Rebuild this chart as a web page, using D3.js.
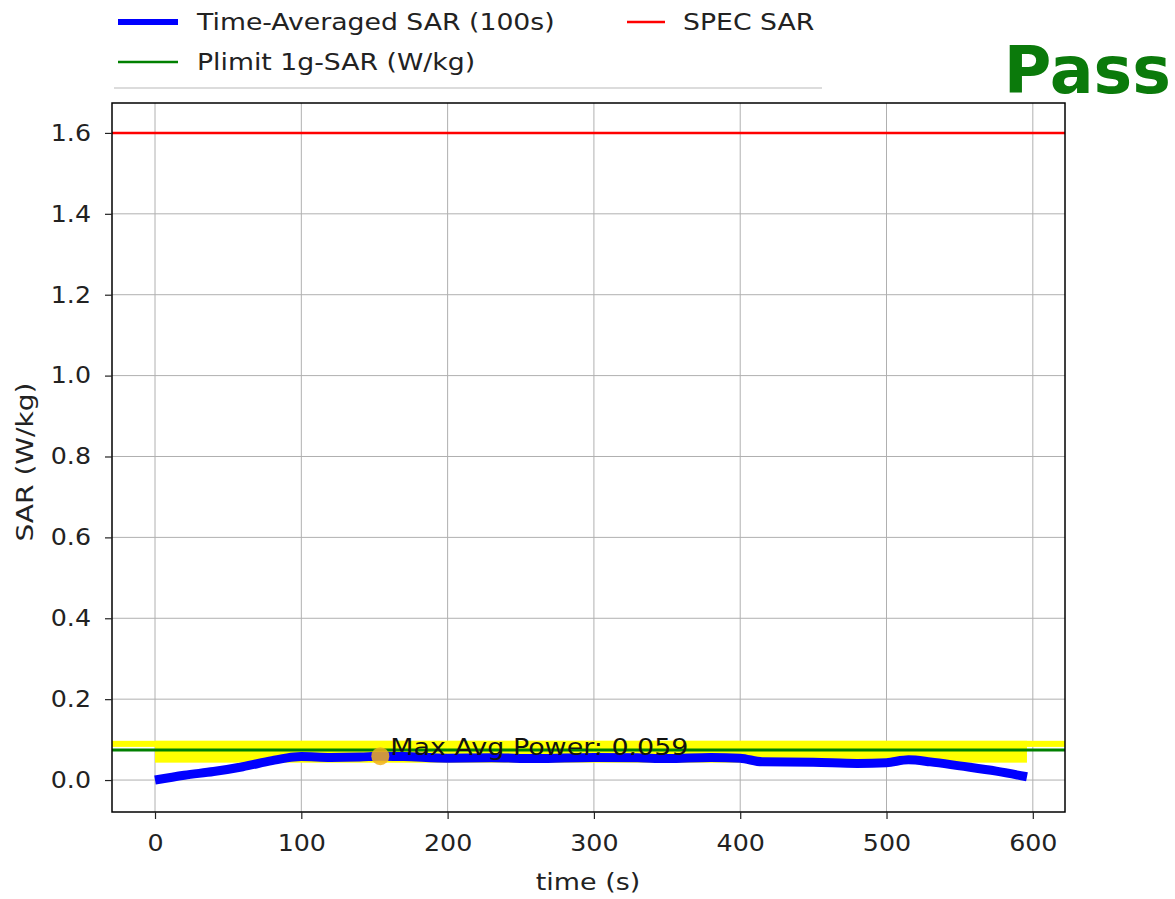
<!DOCTYPE html>
<html><head><meta charset="utf-8">
<script src="https://cdn.jsdelivr.net/npm/d3@7"></script>
<style>body{margin:0;background:#fff}svg{display:block;font-family:"DejaVu Sans",sans-serif}</style>
</head><body><svg id="c" width="1175" height="899"></svg>
<script>
// Data
const timeS = [0,20,40,60,80,95,100,120,140,155,170,200,230,260,300,330,350,380,400,415,450,480,500,515,530,550,575,596];
const sarAvg = [0.0,0.012,0.021,0.033,0.048,0.057,0.058,0.056,0.057,0.059,0.058,0.054,0.055,0.053,0.056,0.055,0.053,0.056,0.054,0.045,0.044,0.041,0.043,0.050,0.045,0.035,0.022,0.008];
const specSar = 1.6;
const plimit = 0.074;
const bandFull = [0.082, 0.097];
const bandData = [0.043, 0.097];
const maxPoint = {t:154, v:0.059};
const xTicks = [0,100,200,300,400,500,600];
const yTicks = [0,0.2,0.4,0.6,0.8,1.0,1.2,1.4,1.6];
const legendItems = ["Time-Averaged SAR (100s)","SPEC SAR","Plimit 1g-SAR (W/kg)"];

const svg = d3.select("#c");
const L=112,R=1065,T=103,B=812;
const x = d3.scaleLinear().domain([-29.4,622]).range([L,R]);
const y = d3.scaleLinear().domain([-0.079,1.674]).range([B,T]);

function stretch(sel, f){
  sel.each(function(){
    const w = this.getComputedTextLength();
    d3.select(this).attr("textLength", w*f).attr("lengthAdjust","spacingAndGlyphs");
  });
}

svg.append("defs").append("clipPath").attr("id","clip").append("rect").attr("x",L).attr("y",T).attr("width",R-L).attr("height",B-T);

// grid
const g = svg.append("g");
g.selectAll(".gx").data(xTicks).join("line").attr("x1",d=>x(d)).attr("x2",d=>x(d)).attr("y1",T).attr("y2",B).attr("stroke","#b0b0b0").attr("stroke-width",1);
g.selectAll(".gy").data(yTicks).join("line").attr("y1",d=>y(d)).attr("y2",d=>y(d)).attr("x1",L).attr("x2",R).attr("stroke","#b0b0b0").attr("stroke-width",1);

const p = svg.append("g").attr("clip-path","url(#clip)");
// yellow bands
p.append("rect").attr("x",L).attr("width",R-L).attr("y",y(bandFull[1])).attr("height",y(bandFull[0])-y(bandFull[1])).attr("fill","#ffff00");
p.append("rect").attr("x",x(timeS[0])).attr("width",x(timeS[timeS.length-1])-x(timeS[0])).attr("y",y(bandData[1])).attr("height",y(bandData[0])-y(bandData[1])).attr("fill","#ffff00");
// spec line
p.append("line").attr("x1",L).attr("x2",R).attr("y1",y(specSar)).attr("y2",y(specSar)).attr("stroke","#ff0000").attr("stroke-width",2.5);
// plimit
p.append("line").attr("x1",L).attr("x2",R).attr("y1",y(plimit)).attr("y2",y(plimit)).attr("stroke","#008000").attr("stroke-width",3);
// blue line
const line = d3.line().x((d,i)=>x(timeS[i])).y(d=>y(d)).curve(d3.curveMonotoneX);
p.append("path").attr("d",line(sarAvg)).attr("fill","none").attr("stroke","#0000ff").attr("stroke-width",9).attr("stroke-linejoin","round");
// max point
p.append("circle").attr("cx",x(maxPoint.t)).attr("cy",y(maxPoint.v)).attr("r",9).attr("fill","#f0b020").attr("opacity",0.85);
stretch(svg.append("text").attr("x",x(maxPoint.t)+10).attr("y",755).attr("font-size",23).attr("fill","#111").text("Max Avg Power: "+maxPoint.v.toFixed(3)), 1.17);

// frame
svg.append("rect").attr("x",L).attr("y",T).attr("width",R-L).attr("height",B-T).attr("fill","none").attr("stroke","#000").attr("stroke-width",1.5);

// axes
const xa = svg.append("g").attr("transform",`translate(0,${B})`).call(d3.axisBottom(x).tickValues(xTicks).tickSize(7).tickPadding(16).tickFormat(d3.format("d")));
const ya = svg.append("g").attr("transform",`translate(${L},0)`).call(d3.axisLeft(y).tickValues(yTicks).tickSize(7).tickPadding(14).tickFormat(d3.format(".1f")));
[xa,ya].forEach(a=>{a.select(".domain").remove();a.selectAll("text").attr("font-size",23).attr("font-family","DejaVu Sans").attr("fill","#222");a.selectAll("line").attr("stroke","#222").attr("stroke-width",1.2);});
stretch(xa.selectAll("text"),1.1);
stretch(ya.selectAll("text"),1.1);

stretch(svg.append("text").attr("x",588).attr("y",890).attr("text-anchor","middle").attr("font-size",23).attr("fill","#222").text("time (s)"),1.17);
stretch(svg.append("text").attr("transform",`translate(33,462) rotate(-90)`).attr("text-anchor","middle").attr("font-size",23).attr("fill","#222").text("SAR (W/kg)"),1.22);

// legend
const lg = svg.append("g");
lg.append("line").attr("x1",114).attr("x2",822).attr("y1",88).attr("y2",88).attr("stroke","#d0d0d0").attr("stroke-width",1.5);
const legendDefs = [
  {x:118,y:22,c:"#0000ff",w:6,len:60,tx:197},
  {x:627,y:22,c:"#ff0000",w:2.5,len:38,tx:683},
  {x:118,y:62,c:"#008000",w:2.5,len:60,tx:197}
];
legendDefs.forEach((d,i)=>{
  lg.append("line").attr("x1",d.x).attr("x2",d.x+d.len).attr("y1",d.y).attr("y2",d.y).attr("stroke",d.c).attr("stroke-width",d.w);
  stretch(lg.append("text").attr("x",d.tx).attr("y",d.y+8).attr("font-size",23).attr("fill","#222").text(legendItems[i]),1.16);
});

svg.append("text").attr("x",1171).attr("y",93).attr("text-anchor","end").attr("font-size",65).attr("font-weight","bold").attr("fill","#0b7a0b").text("Pass");
</script></body></html>
